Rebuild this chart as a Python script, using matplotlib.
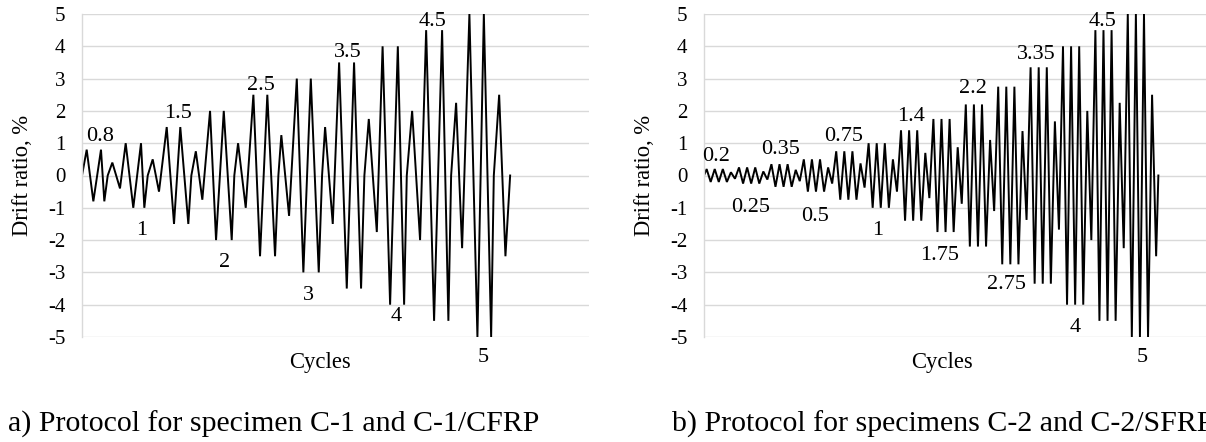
import matplotlib
matplotlib.use("Agg")
import matplotlib.pyplot as plt

plt.rcParams['font.family'] = ['Liberation Serif', 'DejaVu Serif']
plt.rcParams['axes.unicode_minus'] = False

# ---------------- data: protocol (a) ----------------
cycles_a = [0, 0.65, 1.57, 2.63, 3.09, 3.56, 4.2, 5.26,
            6.05, 7.1, 8.17, 8.63, 9.1, 9.79, 10.66,
            11.73, 12.74, 13.61, 14.72, 15.14, 15.76, 16.66,
            17.73, 18.56, 19.63, 20.73, 21.09, 21.61, 22.67,
            23.73, 24.65, 25.66, 26.73, 27.19, 27.6, 28.67,
            29.74, 30.65, 31.68, 32.78, 33.24, 33.66, 34.72,
            35.6, 36.66, 37.67, 38.64, 39.1, 39.71, 40.82,
            41.62, 42.66, 43.73, 44.6, 44.97, 45.71, 46.81,
            47.65, 48.75, 49.86, 50.73, 51.11, 51.8, 52.63,
            53.64, 54.75, 55.64, 56.65, 57.02, 57.76, 58.63, 59.28]
drift_a = [0, 0.8, -0.8, 0.8, -0.8, 0, 0.4, -0.4,
           1, -1, 1, -1, 0, 0.5, -0.5,
           1.5, -1.5, 1.5, -1.5, 0, 0.75, -0.75,
           2, -2, 2, -2, 0, 1, -1,
           2.5, -2.5, 2.5, -2.5, 0, 1.25, -1.25,
           3, -3, 3, -3, 0, 1.5, -1.5,
           3.5, -3.5, 3.5, -3.5, 0, 1.75, -1.75,
           4, -4, 4, -4, 0, 2, -2,
           4.5, -4.5, 4.5, -4.5, 0, 2.25, -2.25,
           5, -5, 5, -5, 0, 2.5, -2.5, 0]
labels_a = ["0.8", "1", "1.5", "2", "2.5", "3", "3.5", "4", "4.5", "5"]
label_x_a = [2.49, 8.27, 13.3, 19.8, 24.8, 31.4, 36.8, 43.5, 48.6, 55.5]
label_y_a = [1.22, -1.69, 1.93, -2.68, 2.8, -3.7, 3.82, -4.38, 4.78, -5.62]

# ---------------- data: protocol (b) ----------------
drift_b = [0,
           0.2, -0.2, 0.2, -0.2, 0.2, -0.2, 0.1, -0.1,
           0.25, -0.25, 0.25, -0.25, 0.25, -0.25, 0.125, -0.125,
           0.35, -0.35, 0.35, -0.35, 0.35, -0.35, 0.175, -0.175,
           0.5, -0.5, 0.5, -0.5, 0.5, -0.5, 0.25, -0.25,
           0.75, -0.75, 0.75, -0.75, 0.75, -0.75, 0.375, -0.375,
           1, -1, 1, -1, 1, -1, 0.5, -0.5,
           1.4, -1.4, 1.4, -1.4, 1.4, -1.4, 0.7, -0.7,
           1.75, -1.75, 1.75, -1.75, 1.75, -1.75, 0.875, -0.875,
           2.2, -2.2, 2.2, -2.2, 2.2, -2.2, 1.1, -1.1,
           2.75, -2.75, 2.75, -2.75, 2.75, -2.75, 1.375, -1.375,
           3.35, -3.35, 3.35, -3.35, 3.35, -3.35, 1.675, -1.675,
           4, -4, 4, -4, 4, -4, 2, -2,
           4.5, -4.5, 4.5, -4.5, 4.5, -4.5, 2.25, -2.25,
           5, -5, 5, -5, 5, -5, 2.5, -2.5,
           0]
cycles_b = [0] + [0.65 + k for k in range(len(drift_b) - 2)] + [112.2]
labels_b = ["0.2", "0.25", "0.35", "0.5", "0.75", "1", "1.4", "1.75",
            "2.2", "2.75", "3.35", "4", "4.5", "5"]
label_x_b = [3.0, 11.6, 18.8, 27.4, 34.6, 43.0, 51.2, 58.3, 66.4, 74.8,
             82.0, 91.6, 98.5, 108.1]
label_y_b = [0.6, -1.0, 0.82, -1.28, 1.22, -1.69, 1.84, -2.49, 2.68, -3.36,
             3.76, -4.72, 4.78, -5.65]

yticks = [-5, -4, -3, -2, -1, 0, 1, 2, 3, 4, 5]
captions = ["a) Protocol for specimen C-1 and C-1/CFRP",
            "b) Protocol for specimens C-2 and C-2/SFRP"]

W, H = 1206, 442
fig = plt.figure(figsize=(W / 100, H / 100), dpi=100)

grid_c = '#d9d9d9'


def make_axes(left_px, xmax, xs, ys, labs, lx, ly):
    ax = fig.add_axes([left_px / W, 1 - 337 / H, 507 / W, 323 / H])
    ax.plot(xs, ys, color='black', lw=1.4, solid_joinstyle='miter')
    ax.set_xlim(0, xmax)
    ax.set_ylim(-5, 5)
    ax.set_yticks(yticks)
    ax.set_yticklabels([str(v) for v in yticks])
    ax.set_xticks([])
    ax.tick_params(axis='y', length=0, pad=12, labelsize=15)
    ax.grid(axis='y', color=grid_c, lw=1.0)
    ax.set_axisbelow(True)
    for s in ['top', 'right', 'bottom']:
        ax.spines[s].set_visible(False)
    ax.spines['left'].set_color(grid_c)
    ax.spines['left'].set_linewidth(1.0)
    ax.set_ylabel("Drift ratio, %", fontsize=16.3, va='center')
    ax.yaxis.set_label_coords(-0.118, 0.5)
    ax.text(0.469, -0.08, "Cycles", transform=ax.transAxes, fontsize=16.3,
            ha='center', va='center')
    for t, x, y in zip(labs, lx, ly):
        ax.text(x, y, t, fontsize=16, ha='center', va='center', clip_on=False)
    return ax


make_axes(82, 70.2, cycles_a, drift_a, labels_a, label_x_a, label_y_a)
make_axes(704, 125.2, cycles_b, drift_b, labels_b, label_x_b, label_y_b)

fig.text(8 / W, 1 - 424 / H, captions[0], fontsize=21.5, ha='left', va='center')
fig.text(672 / W, 1 - 424 / H, captions[1], fontsize=21.5, ha='left', va='center')

fig.savefig("out.png", dpi=100)
